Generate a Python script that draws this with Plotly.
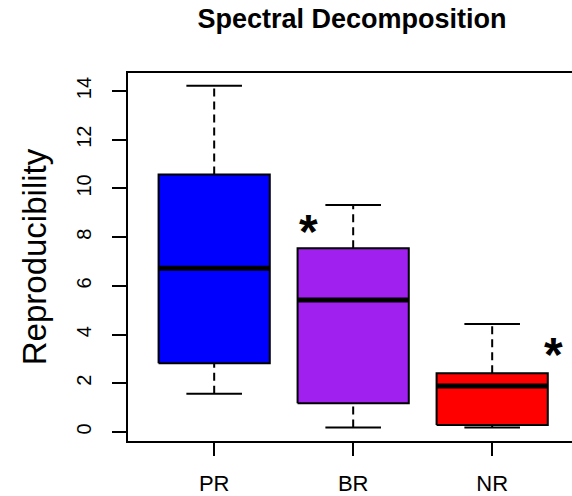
import plotly.graph_objects as go

categories = ["PR", "BR", "NR"]
lower_whisker = [1.57, 0.18, 0.18]
q1 = [2.82, 1.18, 0.29]
median = [6.72, 5.42, 1.89]
q3 = [10.57, 7.54, 2.41]
upper_whisker = [14.22, 9.32, 4.43]
fill_colors = ["#0000FF", "#A020F0", "#FF0000"]
y_ticks = [0, 2, 4, 6, 8, 10, 12, 14]
star_x = [1.68, 3.44]
star_y = [8.6, 3.57]

BOX_HALF = 0.4
CAP_HALF = 0.2

fig = go.Figure()
for i, cat in enumerate(categories):
    x = i + 1
    # whiskers (dashed)
    fig.add_trace(go.Scatter(x=[x, x, None, x, x],
                             y=[q3[i], upper_whisker[i], None, lower_whisker[i], q1[i]],
                             mode="lines", line=dict(color="black", width=2, dash="8px,5px"),
                             hoverinfo="skip", showlegend=False))
    # caps
    fig.add_trace(go.Scatter(x=[x - CAP_HALF, x + CAP_HALF, None, x - CAP_HALF, x + CAP_HALF],
                             y=[upper_whisker[i], upper_whisker[i], None, lower_whisker[i], lower_whisker[i]],
                             mode="lines", line=dict(color="black", width=2),
                             hoverinfo="skip", showlegend=False))
    # box
    fig.add_trace(go.Scatter(x=[x - BOX_HALF, x + BOX_HALF, x + BOX_HALF, x - BOX_HALF, x - BOX_HALF],
                             y=[q1[i], q1[i], q3[i], q3[i], q1[i]],
                             mode="lines", fill="toself", fillcolor=fill_colors[i],
                             line=dict(color="black", width=2),
                             hoverinfo="skip", showlegend=False))
    # median
    fig.add_trace(go.Scatter(x=[x - BOX_HALF, x + BOX_HALF], y=[median[i], median[i]],
                             mode="lines", line=dict(color="black", width=5),
                             hoverinfo="skip", showlegend=False))

for sx, sy in zip(star_x, star_y):
    fig.add_annotation(x=sx, y=sy, xref="x", yref="y", text="<b>*</b>", showarrow=False,
                       font=dict(family="Liberation Sans, Arial", size=48, color="black"),
                       xanchor="center", yanchor="middle", yshift=-9)

fig.update_layout(
    width=572, height=496,
    margin=dict(l=128, r=0, t=73, b=55),
    paper_bgcolor="white", plot_bgcolor="white",
    font=dict(family="Liberation Sans, Arial", color="black"),
    title=dict(text="<b>Spectral Decomposition</b>", x=352 / 572, xanchor="center",
               y=1 - 19 / 496, yanchor="middle",
               font=dict(size=27, family="Liberation Sans, Arial", color="black")),
    xaxis=dict(range=[0.38, 0.38 + 444 / 139], tickvals=[1, 2, 3], ticktext=categories,
               showgrid=False, zeroline=False, showline=True, linecolor="black", linewidth=2,
               mirror=True, ticks="outside", ticklen=13, tickwidth=2, tickcolor="black",
               tickfont=dict(size=22), ticklabelstandoff=9),
    yaxis=dict(range=[-0.37, 14.74], tickvals=y_ticks, showgrid=False, zeroline=False,
               showline=True, linecolor="black", linewidth=2, ticks="outside", ticklen=14,
               tickwidth=2, tickcolor="black", tickangle=-90, tickfont=dict(size=20),
               ticklabelstandoff=13,
               title=dict(text="Reproducibility", font=dict(size=33), standoff=16)),
)

fig.write_html("out.html")
